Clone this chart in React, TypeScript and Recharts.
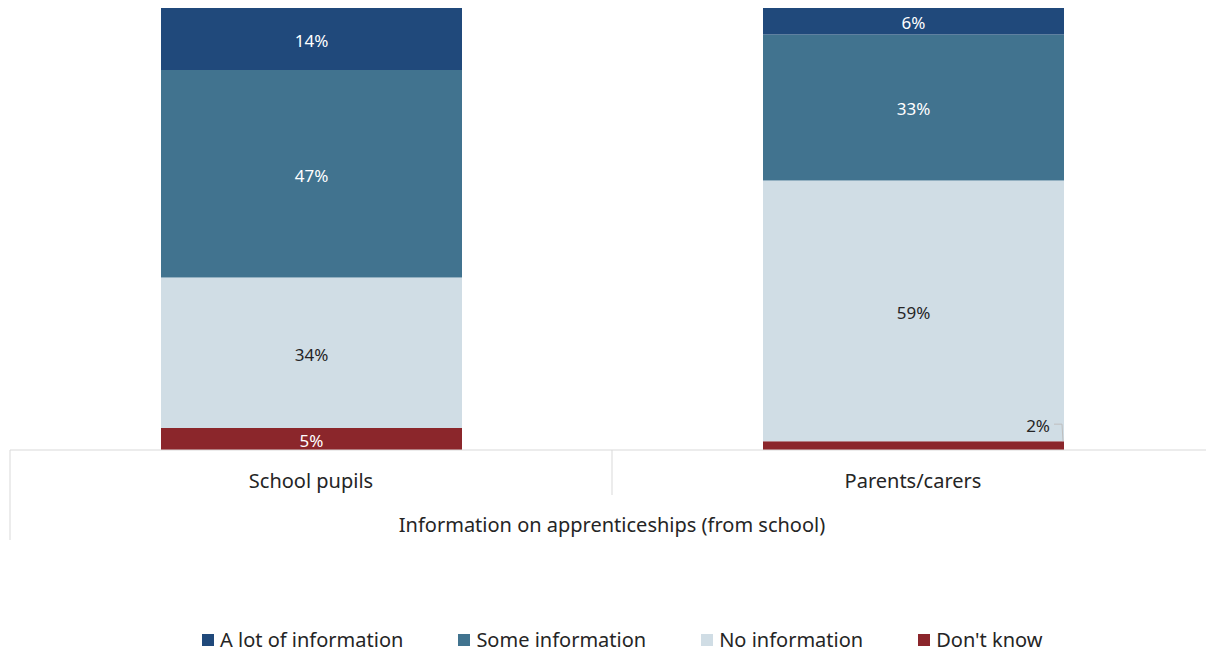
import { BarChart, Bar, XAxis, YAxis, LabelList } from 'recharts';

const categories = ['School pupils', 'Parents/carers'];
const dontKnow = [5, 2];
const noInfo = [34, 59];
const someInfo = [47, 33];
const aLot = [14, 6];
const groupLabel = 'Information on apprenticeships (from school)';

// stacked bottom -> top
const SERIES = [
  { key: "Don't know", values: dontKnow, color: '#8B262B', text: '#ffffff' },
  { key: 'No information', values: noInfo, color: '#D0DDE5', text: '#252525' },
  { key: 'Some information', values: someInfo, color: '#41738F', text: '#ffffff' },
  { key: 'A lot of information', values: aLot, color: '#20497B', text: '#ffffff' },
];

const rows = categories.map((name, i) => {
  const row: Record<string, string | number> = { name };
  SERIES.forEach((s) => {
    row[s.key] = s.values[i];
  });
  return row;
});

const W = 1214;
const H = 652;
const LEFT = 10;
const TOP = 8;
const PLOT_BOTTOM = 450;
const BAND = (W - LEFT) / categories.length;
const FONT = '"Noto Sans", "Open Sans", sans-serif';
const GRID = '#d9d9d9';

function CategoryTick(props: any) {
  const { x, payload, index } = props;
  return (
    <g>
      <text x={x} y={488} textAnchor="middle" fontSize={20} fill="#252525" fontFamily={FONT}>
        {payload.value}
      </text>
      {index === 0 && (
        <>
          <line x1={x - BAND / 2} x2={x - BAND / 2} y1={PLOT_BOTTOM} y2={540} stroke={GRID} />
          <line x1={x + BAND / 2} x2={x + BAND / 2} y1={PLOT_BOTTOM} y2={495} stroke={GRID} />
          <text x={x + BAND / 2} y={532} textAnchor="middle" fontSize={20} fill="#252525" fontFamily={FONT}>
            {groupLabel}
          </text>
        </>
      )}
    </g>
  );
}

function makeLabel(textColor: string) {
  return function SegLabel(props: any) {
    const { x, y, width, height, value } = props;
    if (value == null) return null;
    if (height < 14) {
      // small segment: label sits above, with a leader line
      const rx = x + width;
      return (
        <g>
          <polyline
            points={`${rx - 10},${y - 17} ${rx - 2},${y - 17} ${rx - 1},${y}`}
            fill="none"
            stroke="#bfbfbf"
            strokeWidth={1}
          />
          <text x={rx - 14} y={y - 9} textAnchor="end" fontSize={17} fill="#252525" fontFamily={FONT}>
            {value}%
          </text>
        </g>
      );
    }
    return (
      <text
        x={x + width / 2}
        y={y + height / 2 + 8}
        textAnchor="middle"
        fontSize={17}
        fill={textColor}
        fontFamily={FONT}
      >
        {value}%
      </text>
    );
  };
}

export default function App() {
  const legend = [...SERIES].reverse();
  return (
    <div style={{ position: 'absolute', left: 0, top: 0, width: 1206, height: H, overflow: 'hidden', background: '#fff' }}>
      <BarChart width={W} height={H} data={rows} margin={{ top: TOP, right: 0, left: LEFT, bottom: 0 }} barSize={301}>
        <YAxis hide domain={[0, 100]} />
        <XAxis
          dataKey="name"
          height={H - PLOT_BOTTOM}
          tickLine={false}
          axisLine={{ stroke: GRID }}
          tick={<CategoryTick />}
          interval={0}
        />
        {SERIES.map((s) => (
          <Bar key={s.key} dataKey={s.key} stackId="a" fill={s.color} isAnimationActive={false}>
            <LabelList dataKey={s.key} content={makeLabel(s.text)} />
          </Bar>
        ))}
      </BarChart>
      <div
        style={{
          position: 'absolute',
          left: 202,
          top: 628,
          display: 'flex',
          gap: 55,
          fontFamily: FONT,
          fontSize: 20,
          lineHeight: '24px',
          color: '#252525',
          whiteSpace: 'nowrap',
        }}
      >
        {legend.map((s) => (
          <div key={s.key} style={{ display: 'flex', alignItems: 'center', gap: 6 }}>
            <span style={{ width: 12, height: 12, background: s.color, display: 'inline-block' }} />
            <span>{s.key}</span>
          </div>
        ))}
      </div>
    </div>
  );
}
